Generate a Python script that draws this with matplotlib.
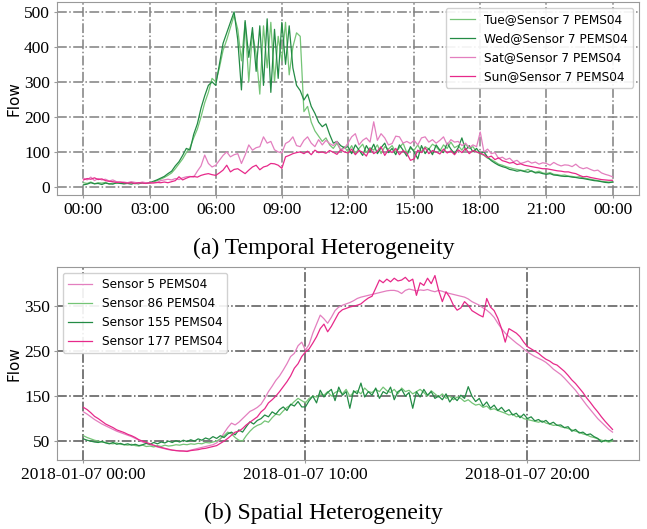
import numpy as np
import pandas as pd
import matplotlib.pyplot as plt
import matplotlib.dates as mdates

# ---- data (10-min steps) ----
tue = [12, 10, 14, 9, 12, 11,
       13, 8, 11, 10, 12, 9,
       11, 13, 9, 10, 12, 11,
       10, 14, 18, 22, 27, 33,
       40, 52, 66, 80, 98, 112,
       140, 165, 200, 240, 270, 310,
       300, 340, 390, 420, 455, 490,
       450, 360, 470, 300, 440, 380,
       265, 460, 340, 470, 300, 430,
       360, 470, 320, 400, 440, 430,
       215, 230, 185, 160, 145, 130,
       140, 120, 110, 125, 105, 115,
       100, 118, 95, 110, 122, 98,
       112, 105, 120, 95, 115, 108,
       118, 100, 112, 125, 98, 110,
       105, 120, 100, 115, 108, 122,
       115, 102, 120, 110, 128, 112,
       118, 105, 122, 110, 115, 100,
       95, 90, 82, 78, 72, 65,
       62, 58, 55, 52, 50, 48,
       46, 50, 44, 42, 45, 40,
       38, 41, 36, 35, 33, 34,
       31, 30, 28, 29, 26, 24,
       22, 20, 18, 16, 15, 14,
       14]
wed = [6, 8, 12, 9, 10, 7,
       11, 9, 8, 12, 10, 9,
       10, 8, 11, 9, 12, 10,
       12, 16, 20, 25, 30, 38,
       45, 60, 72, 90, 110, 105,
       150, 180, 225, 260, 290, 300,
       290, 350, 410, 440, 470, 500,
       420, 277, 475, 370, 455, 330,
       460, 290, 480, 270, 450, 310,
       470, 350, 460, 340, 290, 275,
       248, 265, 230, 210, 185, 172,
       180, 150, 125, 130, 118, 112,
       115, 95, 120, 105, 90, 118,
       100, 122, 95, 112, 125, 98,
       110, 92, 120, 105, 88, 115,
       100, 80, 118, 95, 110, 92,
       120, 105, 98, 125, 108, 95,
       112, 140, 105, 118, 100, 110,
       95, 100, 85, 75, 68, 62,
       58, 55, 50, 48, 45, 47,
       44, 42, 46, 40, 41, 38,
       36, 38, 34, 33, 31, 30,
       30, 28, 27, 25, 24, 22,
       20, 18, 17, 15, 13, 12,
       14]
sat = [25, 20, 28, 18, 24, 20,
       22, 17, 20, 15, 13, 14,
       12, 15, 13, 11, 14, 12,
       11, 13, 12, 18, 20, 22,
       20, 24, 21, 26, 29, 30,
       28, 45, 60, 91, 67, 57,
       62, 76, 90, 100, 86, 92,
       95, 67, 91, 120, 105, 112,
       115, 143, 125, 130, 106, 100,
       97, 124, 130, 143, 118, 115,
       133, 143, 125, 115, 135, 120,
       133, 124, 118, 130, 106, 110,
       125, 143, 152, 120, 133, 140,
       128, 186, 133, 152, 140, 120,
       124, 145, 143, 125, 130, 124,
       133, 120, 140, 143, 128, 135,
       125, 133, 143, 120, 135, 128,
       130, 118, 125, 112, 120, 115,
       157, 100, 108, 95, 98, 81,
       85, 78, 82, 72, 76, 67,
       70, 74, 68, 71, 65, 69,
       67, 62, 70, 64, 60, 63,
       62, 58, 65, 56, 52, 55,
       50, 46, 48, 40, 36, 33,
       29]
sun = [20, 24, 22, 26, 21, 23,
       18, 16, 15, 13, 14, 12,
       11, 12, 10, 12, 11, 10,
       12, 11, 13, 12, 14, 12,
       15, 18, 29, 20, 25, 29,
       30, 28, 33, 36, 38, 35,
       33, 40, 48, 62, 43, 50,
       52, 45, 38, 48, 57, 62,
       49, 57, 60, 67, 66, 62,
       53, 86, 90, 95, 98, 100,
       95, 102, 92, 105, 98, 100,
       96, 104, 99, 93, 106, 100,
       97, 108, 92, 104, 99, 88,
       110, 95, 102, 115, 90, 106,
       98, 110, 92, 104, 96, 76,
       80, 105, 98, 112, 95, 104,
       100, 94, 108, 97, 103, 92,
       106, 98, 110, 95, 104, 100,
       96, 92, 84, 88, 78, 83,
       75, 72, 68, 70, 64, 66,
       62, 60, 58, 56, 54, 52,
       52, 50, 48, 46, 45, 43,
       43, 40, 38, 33, 29, 30,
       27, 25, 23, 21, 20, 19,
       19]

s5 = [115, 110, 104, 98, 93, 88,
      84, 80, 76, 72, 69, 66,
      63, 60, 56, 52, 48, 45,
      42, 39, 37, 35, 33, 31,
      30, 29, 29, 28, 28, 30,
      32, 34, 36, 38, 40, 42,
      46, 55, 68, 80, 90, 86,
      92, 100, 108, 116, 120, 125,
      132, 145, 160, 172, 185, 195,
      208, 222, 238, 245, 262, 270,
      252, 265, 290, 310, 330, 322,
      312, 325, 340, 348, 352, 355,
      358, 362, 367, 370, 372, 374,
      376, 378, 380, 382, 384, 385,
      385, 383, 378, 385, 388, 386,
      384, 386, 385, 387, 384, 382,
      385, 383, 380, 378, 376, 374,
      372, 370, 366, 360, 356, 352,
      346, 341, 334, 325, 312, 300,
      290, 282, 275, 268, 262, 255,
      248, 243, 238, 234, 230, 225,
      218, 210, 204, 198, 190, 181,
      172, 163, 152, 141, 130, 120,
      110, 100, 92, 84, 76, 70]
s86 = [62, 58, 55, 52, 50, 48,
       47, 45, 44, 46, 43, 42,
       41, 43, 40, 39, 41, 38,
       39, 37, 40, 38, 41, 39,
       40, 42, 41, 43, 42, 44,
       43, 45, 44, 47, 46, 48,
       50, 55, 62, 70, 66, 58,
       52, 50, 62, 72, 80, 85,
       88, 95, 92, 102, 110, 108,
       117, 125, 130, 138, 145, 140,
       135, 145, 150, 148, 155, 152,
       160, 150, 158, 162, 155, 165,
       150, 158, 162, 155, 168, 160,
       158, 165, 160, 170, 162, 158,
       165, 155, 168, 160, 163, 155,
       160, 165, 158, 150, 162, 155,
       148, 155, 145, 150, 142, 148,
       145, 138, 142, 135, 130, 132,
       125, 128, 120, 122, 118, 115,
       112, 108, 110, 104, 106, 100,
       98, 96, 94, 92, 95, 90,
       88, 85, 86, 82, 80, 78,
       75, 72, 70, 66, 64, 60,
       58, 55, 52, 50, 48, 50]
s155 = [55, 52, 50, 48, 47, 49,
        46, 44, 47, 43, 45, 42,
        44, 41, 43, 40, 42, 45,
        43, 47, 44, 48, 46, 50,
        47, 51, 48, 52, 49, 53,
        50, 55, 52, 57, 54, 60,
        56, 62, 58, 66, 70, 64,
        75, 70, 82, 93, 88, 96,
        100, 108, 104, 115, 110, 120,
        126, 118, 132, 128, 138, 126,
        126, 140, 150, 135, 163, 148,
        158, 165, 140, 170, 152, 160,
        123, 162, 155, 179, 148, 160,
        152, 168, 145, 160, 155, 170,
        142, 160, 165, 150, 158, 123,
        160, 148, 165, 152, 160, 145,
        150, 142, 155, 137, 148, 140,
        152, 145, 171, 150, 138, 145,
        128, 137, 123, 130, 118, 125,
        115, 120, 108, 112, 102, 110,
        100, 104, 95, 98, 92, 96,
        88, 92, 85, 86, 80, 82,
        72, 76, 68, 70, 64, 66,
        60, 56, 48, 52, 50, 54]
s177 = [125, 120, 113, 105, 100, 94,
        88, 84, 80, 75, 72, 69,
        65, 62, 58, 53, 50, 47,
        44, 41, 38, 36, 34, 32,
        30, 29, 28, 28, 27, 29,
        30, 31, 33, 34, 36, 38,
        40, 45, 50, 56, 63, 70,
        72, 78, 86, 92, 98, 104,
        115, 122, 135, 142, 150, 160,
        171, 182, 195, 212, 222, 238,
        248, 255, 268, 282, 300, 310,
        293, 305, 320, 335, 342, 345,
        348, 350, 352, 355, 362, 368,
        372, 390, 408, 402, 410, 404,
        412, 406, 408, 414, 405, 410,
        374, 402, 396, 412, 400, 418,
        385, 360, 382, 370, 352, 341,
        346, 360, 352, 340, 335, 330,
        326, 367, 348, 340, 323, 300,
        270, 300, 295, 290, 282, 270,
        260, 255, 250, 245, 238, 232,
        228, 222, 219, 212, 205, 196,
        186, 178, 168, 158, 146, 136,
        125, 115, 104, 94, 85, 76]

t_day = pd.date_range('2018-01-02 00:00', periods=len(tue), freq='10min')
day_ticks = pd.date_range('2018-01-02 00:00', periods=9, freq='3h')
t_sp = pd.date_range('2018-01-07 00:00', periods=len(s5), freq='10min')
sp_ticks = pd.to_datetime(['2018-01-07 00:00', '2018-01-07 10:00', '2018-01-07 20:00'])

light_g = '#74c476'
dark_g = '#238b45'
light_p = '#e37fbf'
dark_p = '#e7298a'

plt.rcParams['font.family'] = 'Liberation Serif'
sans = 'DejaVu Sans'

fig = plt.figure(figsize=(6.47, 5.29), dpi=100)

def style(ax, gridcol):
    ax.grid(True, linestyle='-.', color=gridcol, linewidth=1.1)
    for s in ax.spines.values():
        s.set_color('#999999')
    ax.tick_params(labelsize=12.5, length=2, color='#999999', pad=3)
    ax.set_ylabel('Flow', fontsize=11, labelpad=2, family=sans)

# (a) temporal
ax1 = fig.add_axes([0.0881, 0.6314, 0.8995, 0.3648])
ax1.plot(t_day, tue, color=light_g, lw=0.9, label='Tue@Sensor 7 PEMS04')
ax1.plot(t_day, wed, color=dark_g, lw=0.9, label='Wed@Sensor 7 PEMS04')
ax1.plot(t_day, sat, color=light_p, lw=0.9, label='Sat@Sensor 7 PEMS04')
ax1.plot(t_day, sun, color=dark_p, lw=0.9, label='Sun@Sensor 7 PEMS04')
ax1.set_xticks(day_ticks)
ax1.xaxis.set_major_formatter(mdates.DateFormatter('%H:%M'))
ax1.set_yticks([0, 100, 200, 300, 400, 500])
ax1.set_ylim(-23, 528)
style(ax1, '#808080')
ax1.legend(loc='upper right', prop={'family': sans, 'size': 8.7}, framealpha=0.9)

# (b) spatial
ax2 = fig.add_axes([0.0881, 0.1304, 0.8995, 0.3649])
ax2.plot(t_sp, s5, color=light_p, lw=0.9, label='Sensor 5 PEMS04')
ax2.plot(t_sp, s86, color=light_g, lw=0.9, label='Sensor 86 PEMS04')
ax2.plot(t_sp, s155, color=dark_g, lw=0.9, label='Sensor 155 PEMS04')
ax2.plot(t_sp, s177, color=dark_p, lw=0.9, label='Sensor 177 PEMS04')
ax2.set_xticks(sp_ticks)
ax2.xaxis.set_major_formatter(mdates.DateFormatter('%Y-%m-%d %H:%M'))
ax2.set_yticks([50, 150, 250, 350])
ax2.set_ylim(8, 437)
style(ax2, '#555555')
ax2.legend(loc='upper left', prop={'family': sans, 'size': 8.7}, framealpha=0.9)

fig.text(0.5, 0.531, '(a) Temporal Heterogeneity', ha='center', va='center', fontsize=17)
fig.text(0.5, 0.030, '(b) Spatial Heterogeneity', ha='center', va='center', fontsize=17)

fig.savefig('out.png', dpi=100)
